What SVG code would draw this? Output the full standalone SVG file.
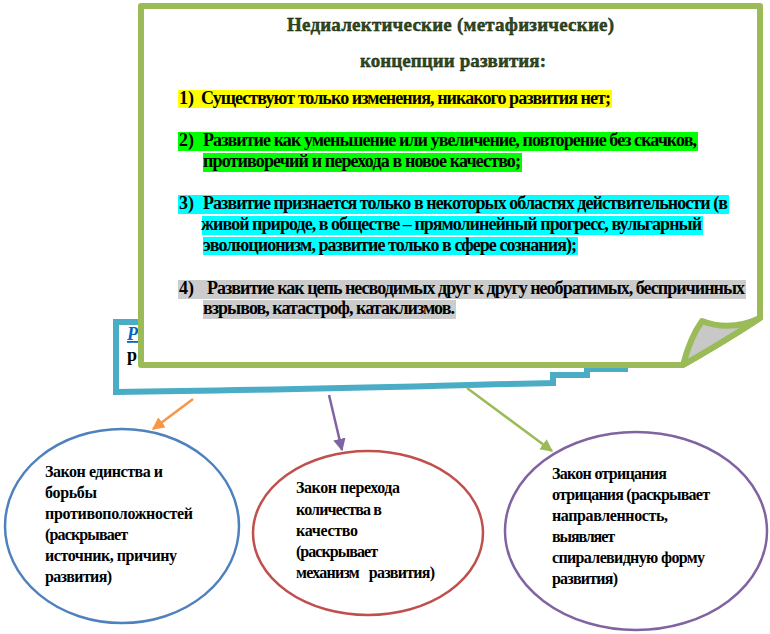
<svg xmlns="http://www.w3.org/2000/svg" width="770" height="634" viewBox="0 0 770 634">
<style>
  .t { font-family: "Liberation Serif", "DejaVu Serif", "Times New Roman", serif; font-weight: bold; fill: #000; }
  .li { font-size: 18px; }
  .el { font-size: 16px; }
  .title { font-size: 19px; fill: #2f4a1c; stroke: #101a08; stroke-width: 0.4; }
  .ellipse { fill: #fff; stroke-width: 2.5; }
  .conn { fill: none; stroke-width: 2.5; }
</style>
<defs>
  <marker id="ah-orange" viewBox="0 0 10 10" refX="9" refY="5" markerWidth="5" markerHeight="5" orient="auto" markerUnits="strokeWidth">
    <path d="M0,0 L10,5 L0,10 Z" fill="#f79646"/>
  </marker>
  <marker id="ah-purple" viewBox="0 0 10 10" refX="9" refY="5" markerWidth="5" markerHeight="5" orient="auto" markerUnits="strokeWidth">
    <path d="M0,0 L10,5 L0,10 Z" fill="#8064a2"/>
  </marker>
  <marker id="ah-green" viewBox="0 0 10 10" refX="9" refY="5" markerWidth="5" markerHeight="5" orient="auto" markerUnits="strokeWidth">
    <path d="M0,0 L10,5 L0,10 Z" fill="#9bbb59"/>
  </marker>
</defs>

<rect width="770" height="634" fill="#fff"/>

<g id="dialectics-box">
  <path d="M116,322 H625 V369 H587 V375 H553 V383 C450,385 300,390 116,392 Z" fill="#fff" stroke="#4bacc6" stroke-width="6" stroke-linejoin="miter"/>
  <text class="t" x="127" y="340" font-size="18" font-style="italic" style="fill:#0563c1" text-decoration="underline">Р</text>
  <text class="t" x="127" y="361" font-size="18">р</text>
</g>

<g id="connectors">
  <line class="conn" x1="193" y1="399" x2="153" y2="429" stroke="#f79646" marker-end="url(#ah-orange)"/>
  <line class="conn" x1="329" y1="395" x2="342" y2="450" stroke="#8064a2" marker-end="url(#ah-purple)"/>
  <line class="conn" x1="467" y1="388" x2="552" y2="451" stroke="#9bbb59" marker-end="url(#ah-green)"/>
</g>

<g id="metaphysics-box">
  <path d="M141,6 H760 V318 Q730,338 683,365 H141 Z" fill="#fff" stroke="#9bbb59" stroke-width="6" stroke-linejoin="round"/>
  <path d="M683,365 Q690,338 702,321 Q730,332 760,318 Q730,338 683,365 Z" fill="#c8c8c8" stroke="#9bbb59" stroke-width="6" stroke-linejoin="round"/>

  <text class="t title" x="287" y="31" textLength="327">Недиалектические (метафизические)</text>
  <text class="t title" x="360" y="67" textLength="186">концепции развития:</text>

  <rect x="178" y="90" width="434" height="18" fill="#ffff00"/>
  <text class="t li" x="179" y="104">1)</text>
  <text class="t li" x="201" y="104" textLength="410">Существуют только изменения, никакого развития нет;</text>

  <rect x="178" y="132" width="520" height="19" fill="#00ff00"/>
  <rect x="203" y="153" width="319" height="19" fill="#00ff00"/>
  <text class="t li" x="179" y="146">2)</text>
  <text class="t li" x="203" y="146" textLength="494">Развитие как уменьшение или увеличение, повторение без скачков,</text>
  <text class="t li" x="203" y="167" textLength="318">противоречий и перехода в новое качество;</text>

  <rect x="178" y="195" width="551" height="19" fill="#00ffff"/>
  <rect x="202" y="216" width="501" height="19" fill="#00ffff"/>
  <rect x="203" y="237" width="375" height="18" fill="#00ffff"/>
  <text class="t li" x="179" y="209">3)</text>
  <text class="t li" x="203" y="209" textLength="525">Развитие признается только в некоторых областях действительности (в</text>
  <text class="t li" x="201" y="230" textLength="501">живой природе, в обществе – прямолинейный прогресс, вульгарный</text>
  <text class="t li" x="203" y="251" textLength="374">эволюционизм, развитие только в сфере сознания);</text>

  <rect x="178" y="280" width="568" height="19" fill="#cccccc"/>
  <rect x="203" y="300" width="253" height="19" fill="#cccccc"/>
  <text class="t li" x="179" y="294">4)</text>
  <text class="t li" x="207" y="294" textLength="538">Развитие как цепь несводимых друг к другу необратимых, беспричинных</text>
  <text class="t li" x="203" y="314" textLength="252">взрывов, катастроф, катаклизмов.</text>
</g>

<g id="law-unity">
  <ellipse class="ellipse" cx="122" cy="526" rx="117" ry="97" stroke="#4f81bd"/>
  <text class="t el" x="45" y="477" textLength="118">Закон единства и</text>
  <text class="t el" x="45" y="498" textLength="52">борьбы</text>
  <text class="t el" x="45" y="519" textLength="148">противоположностей</text>
  <text class="t el" x="45" y="540" textLength="83">(раскрывает</text>
  <text class="t el" x="45" y="561" textLength="132">источник, причину</text>
  <text class="t el" x="45" y="582" textLength="67">развития)</text>
</g>

<g id="law-transition">
  <ellipse class="ellipse" cx="368" cy="533" rx="115" ry="82" stroke="#c0504d"/>
  <text class="t el" x="296" y="493" textLength="104">Закон перехода</text>
  <text class="t el" x="296" y="515" textLength="86">количества в</text>
  <text class="t el" x="296" y="536" textLength="62">качество</text>
  <text class="t el" x="296" y="557" textLength="82">(раскрывает</text>
  <text class="t el" x="296" y="578" textLength="139" xml:space="preserve">механизм   развития)</text>
</g>

<g id="law-negation">
  <ellipse class="ellipse" cx="636" cy="531" rx="131" ry="99" stroke="#8064a2"/>
  <text class="t el" x="552" y="479" textLength="115">Закон отрицания</text>
  <text class="t el" x="552" y="500" textLength="158">отрицания (раскрывает</text>
  <text class="t el" x="552" y="521" textLength="116">направленность,</text>
  <text class="t el" x="552" y="542" textLength="63">выявляет</text>
  <text class="t el" x="552" y="563" textLength="153">спиралевидную форму</text>
  <text class="t el" x="552" y="584" textLength="66">развития)</text>
</g>
</svg>
